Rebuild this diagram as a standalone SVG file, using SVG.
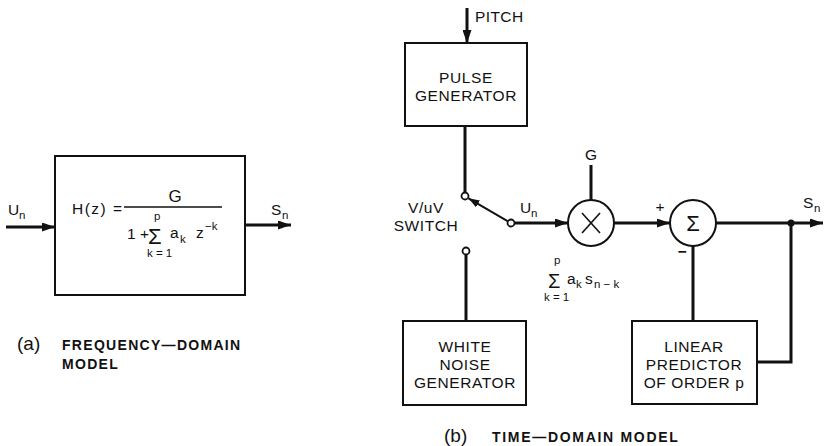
<svg xmlns="http://www.w3.org/2000/svg" width="824" height="446" viewBox="0 0 824 446">
<defs>
<marker id="ah" markerUnits="userSpaceOnUse" markerWidth="13" markerHeight="9" refX="13" refY="4.5" orient="auto"><path d="M0,0 L13,4.5 L0,9 z" fill="#111"/></marker>
<marker id="ahs" markerUnits="userSpaceOnUse" markerWidth="11" markerHeight="8" refX="11" refY="4" orient="auto"><path d="M0,0 L11,4 L0,8 z" fill="#111"/></marker>
<style>
text{font-family:"Liberation Sans",Arial,sans-serif;fill:#111}
.box{fill:#fff;stroke:#111;stroke-width:2}
.lbl{font-size:15.5px;letter-spacing:0.6px;text-anchor:middle}
.sig{stroke:#111;stroke-width:3;fill:none}
.thin{stroke:#111;stroke-width:2;fill:none}
.term{fill:#fff;stroke:#111;stroke-width:1.8}
.cap{font-size:14px;font-weight:bold;letter-spacing:1.3px}
.par{font-size:19px}
.m{font-size:15.5px}
.s{font-size:11.5px}
.sum{font-size:22px}
</style>
</defs>
<rect width="824" height="446" fill="#fff"/>

<g id="connectors">
<line class="sig" x1="6" y1="227" x2="55" y2="227" marker-end="url(#ah)"/>
<line class="sig" x1="245" y1="225" x2="291" y2="225" marker-end="url(#ah)"/>
<line class="sig" x1="467" y1="8" x2="467" y2="43" marker-end="url(#ah)"/>
<line class="sig" x1="465" y1="126" x2="465" y2="192.5"/>
<line class="thin" x1="508" y1="221.3" x2="468.5" y2="198.3" marker-end="url(#ahs)"/>
<line class="sig" x1="514.5" y1="223" x2="568" y2="223" marker-end="url(#ah)"/>
<line class="sig" x1="466" y1="321" x2="466" y2="254.5"/>
<line class="sig" x1="591" y1="165" x2="591" y2="200"/>
<line class="sig" x1="614" y1="223" x2="670" y2="223" marker-end="url(#ah)"/>
<line class="sig" x1="716" y1="223" x2="823" y2="223" marker-end="url(#ah)"/>
<line class="sig" x1="693" y1="246" x2="693" y2="321"/>
<polyline class="sig" points="791,223 791,362 757,362"/>
<circle cx="791" cy="223" r="3.5" fill="#111"/>
<circle class="term" cx="465" cy="196" r="3.5"/>
<circle class="term" cx="511" cy="223" r="3.5"/>
<circle class="term" cx="466" cy="251" r="3.5"/>
</g>

<g id="freq-model">
<rect class="box" x="55" y="156" width="190" height="139"/>
<text class="m" x="72" y="214" style="letter-spacing:1.5px">H(z) =</text>
<line x1="124" y1="207" x2="222" y2="207" stroke="#111" stroke-width="1.5"/>
<text class="m" x="175" y="202" text-anchor="middle" style="font-size:17px">G</text>
<text class="s" x="154" y="220">p</text>
<text class="m" x="127" y="239">1 +</text>
<text class="sum" x="148" y="244">Σ</text>
<text class="m" x="170" y="238">a</text>
<text class="s" x="180" y="243">k</text>
<text class="m" x="196" y="238">z</text>
<text class="s" x="205" y="230">−k</text>
<text class="s" x="147" y="257">k = 1</text>
</g>

<g id="label-un-a"><text class="m" x="8" y="215">U</text><text class="s" x="19" y="219">n</text></g>
<g id="label-sn-a"><text class="m" x="271" y="215">S</text><text class="s" x="282" y="219">n</text></g>

<g id="caption-a">
<text class="par" x="17" y="350">(a)</text>
<text class="cap" x="62" y="350">FREQUENCY—DOMAIN</text>
<text class="cap" x="62" y="369">MODEL</text>
</g>

<g id="pitch"><text class="m" x="475" y="22" style="letter-spacing:0.4px">PITCH</text></g>

<g id="pulse-generator">
<rect class="box" x="405" y="43" width="122" height="83"/>
<text class="lbl" x="466" y="83">PULSE</text>
<text class="lbl" x="466" y="101">GENERATOR</text>
</g>

<g id="switch">
<text class="lbl" x="426" y="213">V/uV</text>
<text class="lbl" x="426" y="231">SWITCH</text>
</g>

<g id="label-un-b"><text class="m" x="520" y="213">U</text><text class="s" x="531" y="217">n</text></g>

<g id="white-noise-generator">
<rect class="box" x="403" y="321" width="123" height="84"/>
<text class="lbl" x="465" y="352">WHITE</text>
<text class="lbl" x="465" y="370">NOISE</text>
<text class="lbl" x="465" y="388">GENERATOR</text>
</g>

<g id="gain"><text class="m" x="591" y="160" text-anchor="middle">G</text></g>

<g id="multiplier">
<circle cx="591" cy="223" r="23" fill="#fff" stroke="#111" stroke-width="2"/>
<line x1="582" y1="213" x2="600" y2="233" stroke="#111" stroke-width="1.6"/>
<line x1="600" y1="213" x2="582" y2="233" stroke="#111" stroke-width="1.6"/>
</g>

<g id="summer">
<circle cx="693" cy="223" r="23" fill="#fff" stroke="#111" stroke-width="2"/>
<text x="693" y="231" text-anchor="middle" style="font-size:22px">Σ</text>
<text class="m" x="660" y="212" text-anchor="middle">+</text>
<text class="m" x="682" y="257" text-anchor="middle" style="font-weight:bold">−</text>
</g>

<g id="predictor-sum">
<text class="s" x="554" y="264">p</text>
<text class="sum" x="548" y="288" style="font-size:20px">Σ</text>
<text class="m" x="567" y="284">a</text>
<text class="s" x="576" y="288">k</text>
<text class="m" x="585" y="284">s</text>
<text class="s" x="594" y="288">n − k</text>
<text class="s" x="544" y="301">k = 1</text>
</g>

<g id="label-sn-b"><text class="m" x="803" y="208">S</text><text class="s" x="814" y="212">n</text></g>

<g id="linear-predictor">
<rect class="box" x="632" y="321" width="125" height="83"/>
<text class="lbl" x="694" y="352">LINEAR</text>
<text class="lbl" x="694" y="370">PREDICTOR</text>
<text class="lbl" x="694" y="388">OF ORDER p</text>
</g>

<g id="caption-b">
<text class="par" x="444" y="442">(b)</text>
<text class="cap" x="492" y="442" style="letter-spacing:1.7px">TIME—DOMAIN MODEL</text>
</g>
</svg>
